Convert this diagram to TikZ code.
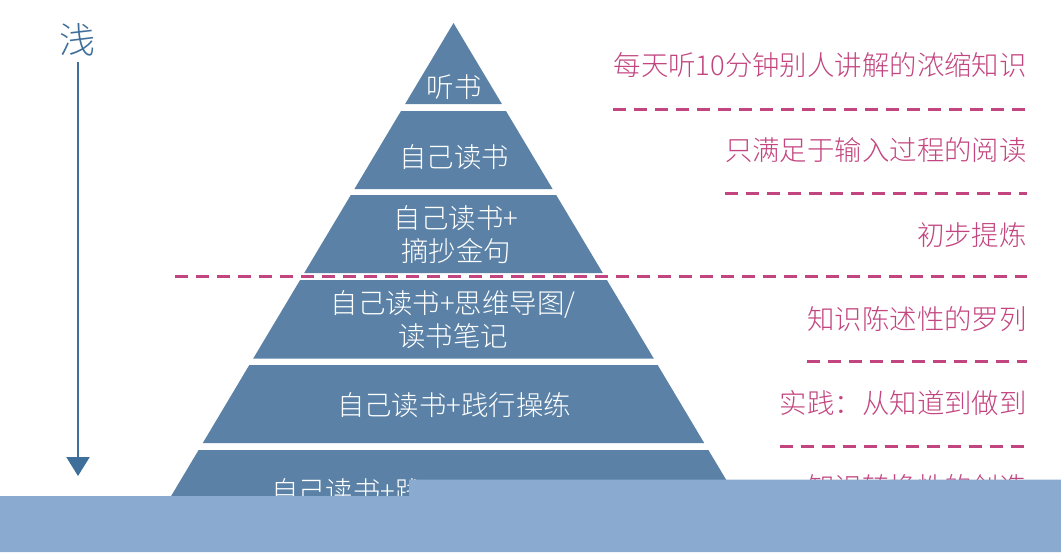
\documentclass[tikz,border=0pt]{standalone}
\usepackage{fontspec}
\setmainfont{Noto Sans CJK SC}[UprightFont=* Light]
\usetikzlibrary{arrows.meta, positioning}
\definecolor{layblue}{RGB}{91,130,166}
\definecolor{deepblue}{RGB}{62,110,154}
\definecolor{notepink}{RGB}{194,69,127}
\definecolor{coverblue}{RGB}{138,171,207}
\tikzset{
  % --- Pyramid -------------------------------------------------
  lay/.style={fill=layblue},
  laytxt/.style={text=white, align=center, inner sep=0pt,
    font=\fontsize{15.6}{18.8}\selectfont},
  % --- Notes on the right --------------------------------------
  notetxt/.style={text=notepink, anchor=east, inner sep=0pt,
    font=\fontsize{15.6}{18.8}\selectfont},
  divline/.style={draw=notepink, line width=1.7pt,
    dash pattern=on 0.26cm off 0.16cm},
  % --- Depth arrow ---------------------------------------------
  deep/.style={draw=deepblue, line width=1.3pt,
    -{Triangle[length=0.38cm, width=0.46cm]}},
  deeplbl/.style={text=deepblue, inner sep=3pt,
    font=\fontsize{20.5}{24}\selectfont},
  cover/.style={fill=coverblue}
}
\begin{document}
\begin{tikzpicture}[x=0.02cm, y=-0.02cm]
  \useasboundingbox (0,0) rectangle (1061,552);

  % --- Layers, top to bottom ---
  \fill[lay] (453.5,23) -- (501.9,104) -- (405.1,104) -- cycle;
  \fill[lay] (401.0,111) -- (506.0,111) -- (552.6,189) -- (354.4,189) -- cycle;
  \fill[lay] (350.8,195) -- (556.2,195) -- (602.8,273) -- (304.2,273) -- cycle;
  \fill[lay] (300.1,280) -- (606.9,280) -- (653.9,358.7) -- (253.1,358.7) -- cycle;
  \fill[lay] (249.3,365) -- (657.7,365) -- (704.2,443) -- (202.8,443) -- cycle;
  \fill[lay] (198.6,450) -- (708.4,450) -- (756.2,530) -- (150.8,530) -- cycle;

  \node[laytxt] (l1) at (454,87)    {听书};
  \node[laytxt] (l2) at (454,157.5) {自己读书};
  \node[laytxt] (l3) at (456,235)   {自己读书+\\摘抄金句};
  \node[laytxt] (l4) at (453,319.5) {自己读书+思维导图/\\读书笔记};
  \node[laytxt] (l5) at (454,405)   {自己读书+践行操练};
  \node[laytxt, anchor=west] (l6) at (270.7,491.5) {自己读书+践};

  % --- Notes, right aligned ---
  \node[notetxt] (r1) at (1027,65.5)  {每天听10分钟别人讲解的浓缩知识};
  \node[notetxt] (r2) at (1027,150.5) {只满足于输入过程的阅读};
  \node[notetxt] (r3) at (1027,235.5) {初步提炼};
  \node[notetxt] (r4) at (1027,319)   {知识陈述性的罗列};
  \node[notetxt] (r5) at (1027,403)   {实践：从知道到做到};
  \node[notetxt] (r6) at (1027,487)   {知识转换性的创造};

  \draw[divline] (r1.west |- 0,109)   -- (r1.east |- 0,109);
  \draw[divline] (r2.west |- 0,193.3) -- (r2.east |- 0,193.3);
  \coordinate (cutL) at (175,276.7);
  \draw[divline] (cutL) -- (r3.east |- cutL);
  \draw[divline] (r4.west |- 0,361.7) -- (r4.east |- 0,361.7);
  \draw[divline] (r5.west |- 0,446)   -- (r5.east |- 0,446);

  % --- Depth arrow on the left ---
  \node[deeplbl] (sh) at (78,40) {浅};
  \coordinate (deepEnd) at (78,476);
  \draw[deep] (sh.south) -- (deepEnd);

  % --- Band over the bottom ---
  \fill[cover] (0,496) -- (409,496) -- (409,479.5) -- (1061,479.5)
    -- (1061,552) -- (0,552) -- cycle;

\end{tikzpicture}
\end{document}
